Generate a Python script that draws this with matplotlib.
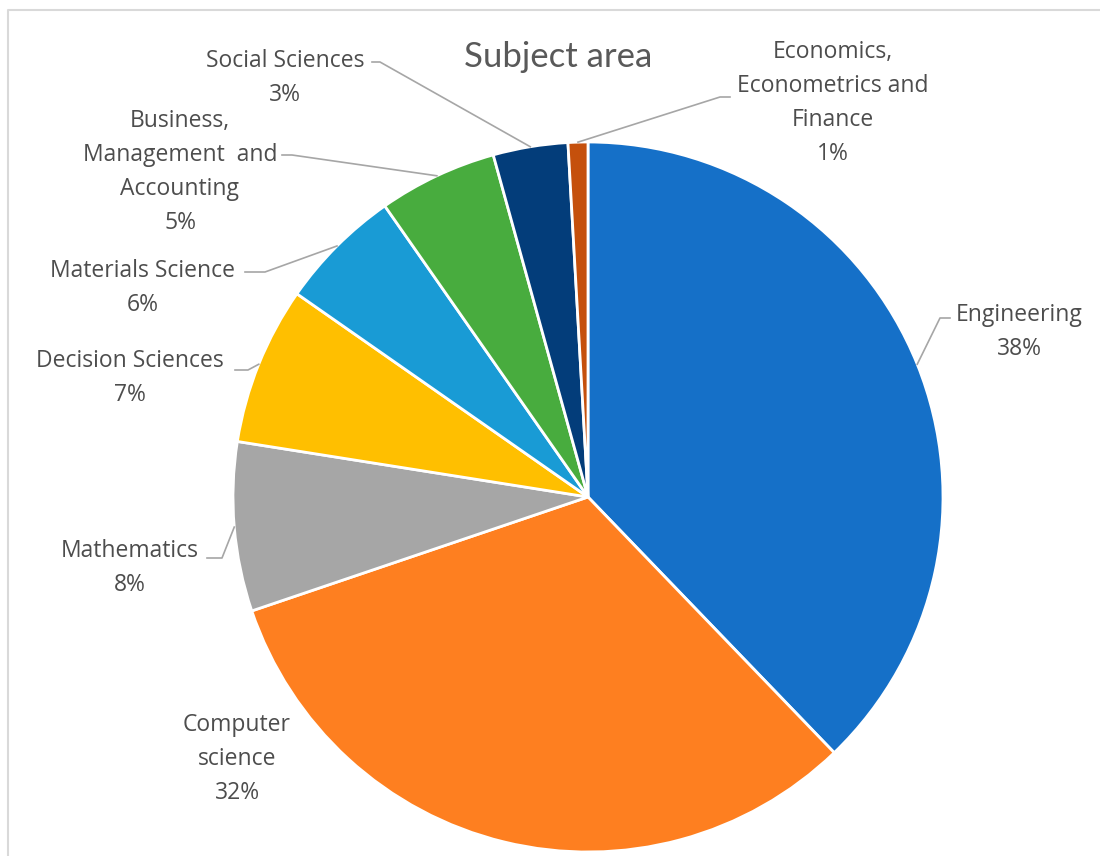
import numpy as np
import matplotlib
matplotlib.use('Agg')
from matplotlib import pyplot as plt

plt.rcParams['font.family'] = ['Open Sans', 'DejaVu Sans']

title = 'Subject area'
subjects = ['Engineering', 'Computer\nscience', 'Mathematics', 'Decision Sciences',
            'Materials Science', 'Business,\nManagement  and\nAccounting',
            'Social Sciences', 'Economics,\nEconometrics and\nFinance']
shares = [37.8, 32.0, 7.7, 7.2, 5.6, 5.4, 3.4, 0.9]
colors = ['#1570c8', '#fe7f20', '#a6a6a6', '#ffbf00', '#199bd5', '#48ac3e', '#033d7a', '#c5500c']

W, H = 1100, 856
cx, cy, rad = 588, 497, 355

# label centres and leader elbows, in pixels from the top-left
label_pos = [(1019, 332), (237, 759), (130, 568), (130, 378), (143, 288), (180, 172), (285, 78), (833, 103)]
elbows = [[(950, 318), (940, 318)], None, [(207, 558), (222, 558)], [(235, 370), (248, 370)],
          [(245, 272), (265, 272)], [(282, 155), (292, 155)], [(372, 62), (380, 62)],
          [(730, 97), (720, 97)]]

fig = plt.figure(figsize=(W / 100, H / 100), dpi=100)
ax = fig.add_axes([0, 0, 1, 1])

wedges, _ = ax.pie(shares, colors=colors, center=(cx, H - cy), radius=rad,
                   startangle=90, counterclock=False,
                   wedgeprops=dict(edgecolor='white', linewidth=2))

ax.set_xlim(0, W)
ax.set_ylim(0, H)
ax.set_aspect('equal')
ax.axis('off')

# chart border
ax.plot([8, 8, W], [0, H - 10, H - 10], color='#d9d9d9', lw=1.5)

ax.text(558, H - 57, title, ha='center', va='center', fontsize=25,
        color='#595959', family=['Lato', 'DejaVu Sans'])

for w, name, val, (lx, ly), el in zip(wedges, subjects, shares, label_pos, elbows):
    ax.text(lx, H - ly, f'{name}\n{val:.0f}%', ha='center', va='center',
            fontsize=16.5, color='#4d4d4d', linespacing=1.55)
    if el is None:
        continue
    mid = np.deg2rad((w.theta1 + w.theta2) / 2)
    ex = cx + rad * np.cos(mid)
    ey = H - cy + rad * np.sin(mid)
    xs = [p[0] for p in el] + [ex]
    ys = [H - p[1] for p in el] + [ey]
    ax.plot(xs, ys, color='#a6a6a6', lw=1.2)

fig.savefig('out.png', dpi=100)
